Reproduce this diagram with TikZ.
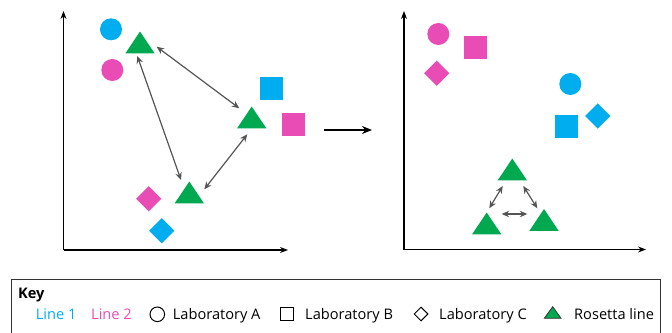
\documentclass[tikz,border=0pt]{standalone}
\usepackage{fontspec}
\setmainfont{Open Sans}
\usetikzlibrary{arrows.meta,shapes.geometric}
\definecolor{lblue}{HTML}{00AEEF}
\definecolor{lpink}{HTML}{E94DB5}
\definecolor{lgreen}{HTML}{00A84F}
\definecolor{agray}{HTML}{555555}
\newcommand{\rtri}[4]{% name, apex x, apex y, scale
  \fill[lgreen] (#2,#3) -- ++(-14.6*#4,21.8*#4) -- ++(29.2*#4,0) -- cycle;
  \coordinate (#1) at (#2,#3+14.5*#4);}
\begin{document}
\begin{tikzpicture}[x=1pt,y=-1pt,
  axis/.style={line width=1.1pt,-{Stealth[length=8pt,width=6pt]}},
  link/.style={agray,line width=1.2pt,{Stealth[length=7.5pt,width=6.5pt]}-{Stealth[length=7.5pt,width=6.5pt]}},
  dot/.style={circle,fill=#1,minimum size=22pt,inner sep=0pt},
  sq/.style={rectangle,fill=#1,minimum size=22.7pt,inner sep=0pt},
  dia/.style={diamond,fill=#1,minimum size=25.4pt,inner sep=0pt},
  keytext/.style={anchor=base west,inner sep=0pt,font=\fontsize{14.6pt}{16pt}\selectfont}]
\useasboundingbox (0,0) rectangle (672,332);
% left axes
\coordinate (lo) at (63.5,250);
\coordinate (ly) at (63.5,11);
\coordinate (lx) at (288,250);
\draw[axis] (lo) -- (ly);
\draw[axis] (lo) -- (lx);
% left shapes
\node[dot=lblue] (c1) at (111,29.3) {};
\node[dot=lpink] (c2) at (112.3,70) {};
\node[sq=lblue] (s1) at (271.3,88.7) {};
\node[sq=lpink] (s2) at (293.7,124.5) {};
\node[dia=lpink] (d2) at (148.7,198.7) {};
\node[dia=lblue] (d1) at (161.7,230.7) {};
\rtri{ta}{140}{31.5}{1}
\rtri{tb}{251.7}{106.5}{1}
\rtri{tc}{189.3}{181.5}{1}
\coordinate (a1s) at (156.7,46.7);
\coordinate (a1e) at (239.3,108.3);
\coordinate (a2s) at (137.3,56);
\coordinate (a2e) at (181,180);
\coordinate (a3s) at (247.3,134.3);
\coordinate (a3e) at (204.3,189.3);
\draw[link] (a1s) -- (a1e);
\draw[link] (a2s) -- (a2e);
\draw[link] (a3s) -- (a3e);
% middle arrow
\coordinate (ms) at (324,130);
\coordinate (me) at (372,130);
\draw[line width=1.3pt,-{Stealth[length=10pt,width=8pt]}] (ms) -- (me);
% right axes
\coordinate (ro) at (404,249.5);
\coordinate (ry) at (404,11);
\coordinate (rx) at (646,249.5);
\draw[axis] (ro) -- (ry);
\draw[axis] (ro) -- (rx);
\node[dot=lpink] (rc2) at (438.3,34) {};
\node[sq=lpink] (rs2) at (475.3,47.3) {};
\node[dia=lpink] (rd2) at (436.7,73.3) {};
\node[dot=lblue] (rc1) at (570.3,84) {};
\node[dia=lblue] (rd1) at (597.7,116) {};
\node[sq=lblue] (rs1) at (566.3,126.3) {};
\rtri{rta}{512.3}{158.5}{1}
\rtri{rtb}{486.7}{212.5}{1}
\rtri{rtc}{544}{209}{1}
\coordinate (b1s) at (502.7,186);
\coordinate (b1e) at (489.3,208.3);
\coordinate (b2s) at (523.3,186);
\coordinate (b2e) at (537.3,208.3);
\coordinate (b3s) at (501.7,214);
\coordinate (b3e) at (527.3,214);
\draw[link] (b1s) -- (b1e);
\draw[link] (b2s) -- (b2e);
\draw[link] (b3s) -- (b3e);
% key
\draw[line width=1pt,black!80] (11.7,279.3) rectangle (660.7,345);
\node[keytext,font=\fontsize{14.6pt}{16pt}\selectfont\bfseries] (key) at (18,298) {Key};
\node[keytext,text=lblue] (k1) at (35.7,319.3) {Line 1};
\node[keytext,text=lpink] (k2) at (91,319.3) {Line 2};
\node[circle,draw,line width=1pt,minimum size=14.6pt,inner sep=0pt] (kc) at (157.3,314.3) {};
\node[keytext] (ka) at (172.7,319.3) {Laboratory A};
\node[rectangle,draw,line width=1pt,minimum size=13.4pt,inner sep=0pt] (ks) at (287,314) {};
\node[keytext] (kb) at (305,319.3) {Laboratory B};
\node[diamond,draw,line width=1pt,minimum size=14pt,inner sep=0pt] (kd) at (421,314) {};
\node[keytext] (kcc) at (439,319.3) {Laboratory C};
\filldraw[fill=lgreen,draw=black!80,line width=0.8pt] (552.7,306.7) -- (561,318.3) -- (544.3,318.3) -- cycle;
\coordinate (kt) at (552.7,314);
\node[keytext] (kr) at (574,319.3) {Rosetta line};
\end{tikzpicture}
\end{document}
